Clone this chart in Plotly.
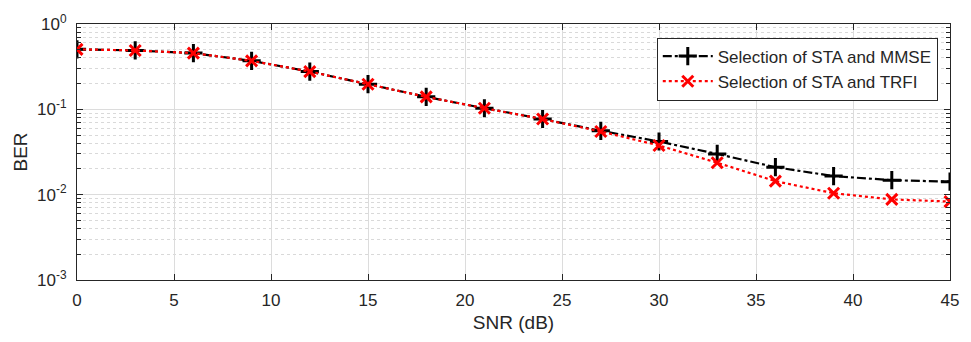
import plotly.graph_objects as go

snr = [0, 3, 6, 9, 12, 15, 18, 21, 24, 27, 30, 33, 36, 39, 42, 45]
ber_mmse = [0.505, 0.49, 0.456, 0.37, 0.277, 0.197, 0.14, 0.103, 0.077, 0.056, 0.042, 0.030, 0.021, 0.0165, 0.0148, 0.0142]
ber_trfi = [0.505, 0.49, 0.456, 0.37, 0.277, 0.197, 0.14, 0.103, 0.077, 0.055, 0.0377, 0.0237, 0.0144, 0.0104, 0.0088, 0.0083]
names = ["Selection of STA and MMSE", "Selection of STA and TRFI"]
ytick_vals = [1e-3, 1e-2, 1e-1, 1]
ytick_text = ["10<sup>-3</sup>", "10<sup>-2</sup>", "10<sup>-1</sup>", "10<sup>0</sup>"]
xtick_vals = [0, 5, 10, 15, 20, 25, 30, 35, 40, 45]

FONT = "Liberation Sans, Arial"
INK = "#262626"

fig = go.Figure()
fig.add_trace(go.Scatter(
    x=snr, y=ber_mmse, name=names[0], mode="lines+markers",
    line=dict(color="black", width=2.2, dash="dashdot"),
    marker=dict(symbol="cross-thin-open", size=13, color="black", line=dict(width=3, color="black")),
))
fig.add_trace(go.Scatter(
    x=snr, y=ber_trfi, name=names[1], mode="lines+markers",
    line=dict(color="red", width=2.2, dash="dot"),
    marker=dict(symbol="x-thin-open", size=11, color="red", line=dict(width=3, color="red")),
))

axis_common = dict(
    showline=True, linecolor=INK, linewidth=1, mirror="ticks",
    ticks="inside", ticklen=6, tickcolor=INK,
    gridcolor="#dcdcdc", gridwidth=1, zeroline=False,
    ticklabeloverflow="allow",
    tickfont=dict(family=FONT, size=17, color=INK),
)

fig.update_layout(
    width=971, height=342,
    margin=dict(l=77, r=14, t=18, b=60),
    paper_bgcolor="white", plot_bgcolor="white",
    font=dict(family=FONT, size=17, color=INK),
    xaxis=dict(
        range=[0, 45], tickvals=xtick_vals, ticklabelstandoff=5,
        title=dict(text="SNR (dB)", standoff=6, font=dict(size=19)),
        **axis_common,
    ),
    yaxis=dict(
        type="log", range=[-3, 0], tickvals=ytick_vals, ticktext=ytick_text,
        ticklabelstandoff=6,
        title=dict(text="BER", standoff=4, font=dict(size=19)),
        minor=dict(dtick="D1", ticks="inside", ticklen=4, tickcolor=INK, showgrid=True,
                   gridcolor="#d9d9d9", griddash="dot", gridwidth=1),
        **axis_common,
    ),
    legend=dict(
        x=0.986, y=0.947, xanchor="right", yanchor="top",
        bgcolor="white", bordercolor=INK, borderwidth=1,
        font=dict(family=FONT, size=17, color=INK),
        tracegroupgap=0, itemwidth=50,
    ),
    showlegend=True,
)

# remove the page's default 8px body margin so the figure sits at the window origin
fig.write_html(
    "out.html",
    config={"displayModeBar": False},
    post_script="document.body.style.margin='0';document.body.style.overflow='hidden';",
)
